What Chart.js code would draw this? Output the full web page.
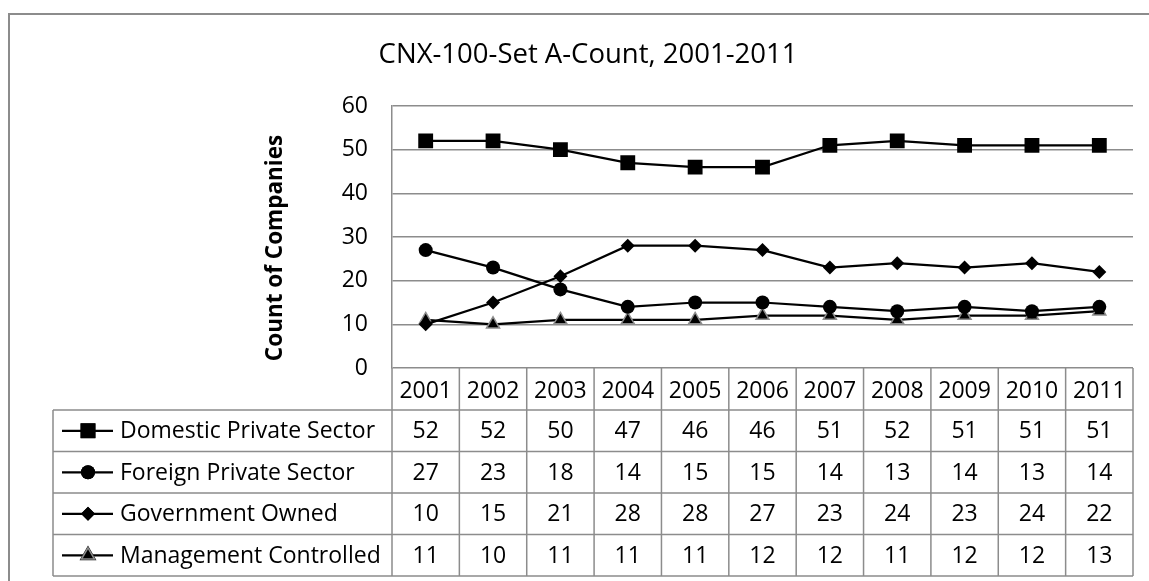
<!DOCTYPE html>
<html lang="en">
<head>
    <title>CNX-100-Set A-Count</title>
    <script src="https://cdn.jsdelivr.net/npm/chart.js@4.4.0/dist/chart.umd.min.js"></script>
    <style>
        body { margin: 0; background: #fff; }
    </style>
</head>
<body>

    <canvas id="myChart" width="1149" height="581"></canvas>

    <script>

        var years = ["2001", "2002", "2003", "2004", "2005", "2006", "2007", "2008", "2009", "2010", "2011"];
        var domestic = [52, 52, 50, 47, 46, 46, 51, 52, 51, 51, 51];
        var foreign = [27, 23, 18, 14, 15, 15, 14, 13, 14, 13, 14];
        var government = [10, 15, 21, 28, 28, 27, 23, 24, 23, 24, 22];
        var management = [11, 10, 11, 11, 11, 12, 12, 11, 12, 12, 13];
        var yTicks = [0, 10, 20, 30, 40, 50, 60];

        var titleText = "CNX-100-Set A-Count, 2001-2011";
        var yTitle = "Count of Companies";

        var FONT = "'Open Sans', sans-serif";
        var GRID = "#8c8c8c";

        // data table + title + frame, drawn under the chart's own scales
        var tablePlugin = {
            id: "dataTable",
            afterDraw: function (chart) {
                var ctx = chart.ctx;
                var area = chart.chartArea;
                var x = chart.scales.x;
                var n = years.length;
                var colW = (area.right - area.left) / n;
                var headH = 42;
                var rowH = 41.5;
                var labelLeft = 53;
                var rowsTop = area.bottom + headH;
                var ds = chart.data.datasets;

                ctx.save();

                // outer frame (top and left edges)
                ctx.strokeStyle = GRID;
                ctx.lineWidth = 2;
                ctx.beginPath();
                ctx.moveTo(9, chart.height);
                ctx.lineTo(9, 14);
                ctx.lineTo(chart.width, 14);
                ctx.stroke();

                // title
                ctx.fillStyle = "#000";
                ctx.font = "27.5px " + FONT;
                ctx.textAlign = "center";
                ctx.textBaseline = "alphabetic";
                ctx.fillText(titleText, 588, 63);

                // y axis title
                ctx.save();
                ctx.translate(276, 248);
                ctx.rotate(-Math.PI / 2);
                ctx.textBaseline = "middle";
                ctx.font = "bold 22.5px " + FONT;
                ctx.fillText(yTitle, 0, 0);
                ctx.restore();

                // table grid
                ctx.strokeStyle = GRID;
                ctx.lineWidth = 1.5;
                ctx.beginPath();
                for (var i = 0; i <= n; i++) {
                    var cx = area.left + i * colW;
                    ctx.moveTo(cx, area.bottom);
                    ctx.lineTo(cx, rowsTop + rowH * ds.length);
                }
                ctx.moveTo(labelLeft, rowsTop);
                ctx.lineTo(labelLeft, rowsTop + rowH * ds.length);
                for (var r = 0; r <= ds.length; r++) {
                    ctx.moveTo(labelLeft, rowsTop + r * rowH);
                    ctx.lineTo(area.right, rowsTop + r * rowH);
                }
                ctx.stroke();

                // header years
                ctx.fillStyle = "#000";
                ctx.font = "23px " + FONT;
                ctx.textAlign = "center";
                ctx.textBaseline = "alphabetic";
                for (var i = 0; i < n; i++) {
                    ctx.fillText(years[i], x.getPixelForValue(i), area.bottom + 30);
                }

                // rows
                for (var r = 0; r < ds.length; r++) {
                    var top = rowsTop + r * rowH;
                    var cy = top + rowH / 2;
                    var base = top + 28;
                    var d = ds[r];

                    ctx.strokeStyle = "#000";
                    ctx.lineWidth = 2.25;
                    ctx.beginPath();
                    ctx.moveTo(62, cy);
                    ctx.lineTo(113, cy);
                    ctx.stroke();

                    Chart.helpers.drawPoint(ctx, {
                        pointStyle: d.pointStyle,
                        radius: d.pointRadius,
                        rotation: 0,
                        borderWidth: d.pointBorderWidth
                    }, 88, cy);
                    ctx.fillStyle = d.pointBackgroundColor;
                    ctx.strokeStyle = d.pointBorderColor;
                    ctx.lineWidth = d.pointBorderWidth;
                    ctx.fill();
                    if (d.pointBorderWidth > 0) ctx.stroke();

                    ctx.fillStyle = "#000";
                    ctx.textAlign = "left";
                    ctx.fillText(d.label, 120, base);
                    ctx.textAlign = "center";
                    for (var i = 0; i < n; i++) {
                        ctx.fillText(String(d.data[i]), x.getPixelForValue(i), base);
                    }
                }

                ctx.restore();
            }
        };

        new Chart("myChart", {
            type: "line",
            data: {
                labels: years,
                datasets: [
                    {
                        label: "Domestic Private Sector",
                        data: domestic,
                        borderColor: "#000",
                        borderWidth: 2.25,
                        pointStyle: "rect",
                        pointRadius: 10.5,
                        pointBackgroundColor: "#000",
                        pointBorderColor: "#000",
                        pointBorderWidth: 0
                    },
                    {
                        label: "Foreign Private Sector",
                        data: foreign,
                        borderColor: "#000",
                        borderWidth: 2.25,
                        pointStyle: "circle",
                        pointRadius: 7,
                        pointBackgroundColor: "#000",
                        pointBorderColor: "#000",
                        pointBorderWidth: 0
                    },
                    {
                        label: "Government Owned",
                        data: government,
                        borderColor: "#000",
                        borderWidth: 2.25,
                        pointStyle: "rectRot",
                        pointRadius: 7,
                        pointBackgroundColor: "#000",
                        pointBorderColor: "#000",
                        pointBorderWidth: 0
                    },
                    {
                        label: "Management Controlled",
                        data: management,
                        borderColor: "#000",
                        borderWidth: 2.25,
                        pointStyle: "triangle",
                        pointRadius: 7.5,
                        pointBackgroundColor: "#000",
                        pointBorderColor: "#8c8c8c",
                        pointBorderWidth: 1.5
                    }
                ]
            },
            options: {
                responsive: false,
                animation: false,
                layout: {
                    padding: { left: 0, top: 106, right: 16, bottom: 213 }
                },
                plugins: {
                    legend: { display: false },
                    title: { display: false },
                    tooltip: { enabled: false }
                },
                scales: {
                    x: {
                        display: false,
                        offset: true
                    },
                    y: {
                        min: 0,
                        max: 60,
                        afterFit: function (scale) { scale.width = 392; },
                        afterBuildTicks: function (scale) {
                            scale.ticks = yTicks.map(v => ({ value: v }));
                        },
                        grid: {
                            color: GRID,
                            lineWidth: 1.5,
                            drawTicks: false
                        },
                        border: { color: GRID, width: 1.5 },
                        ticks: {
                            padding: 24,
                            color: "#000",
                            font: { family: FONT, size: 23 }
                        }
                    }
                }
            },
            plugins: [tablePlugin]
        });

    </script>
</body>
</html>
